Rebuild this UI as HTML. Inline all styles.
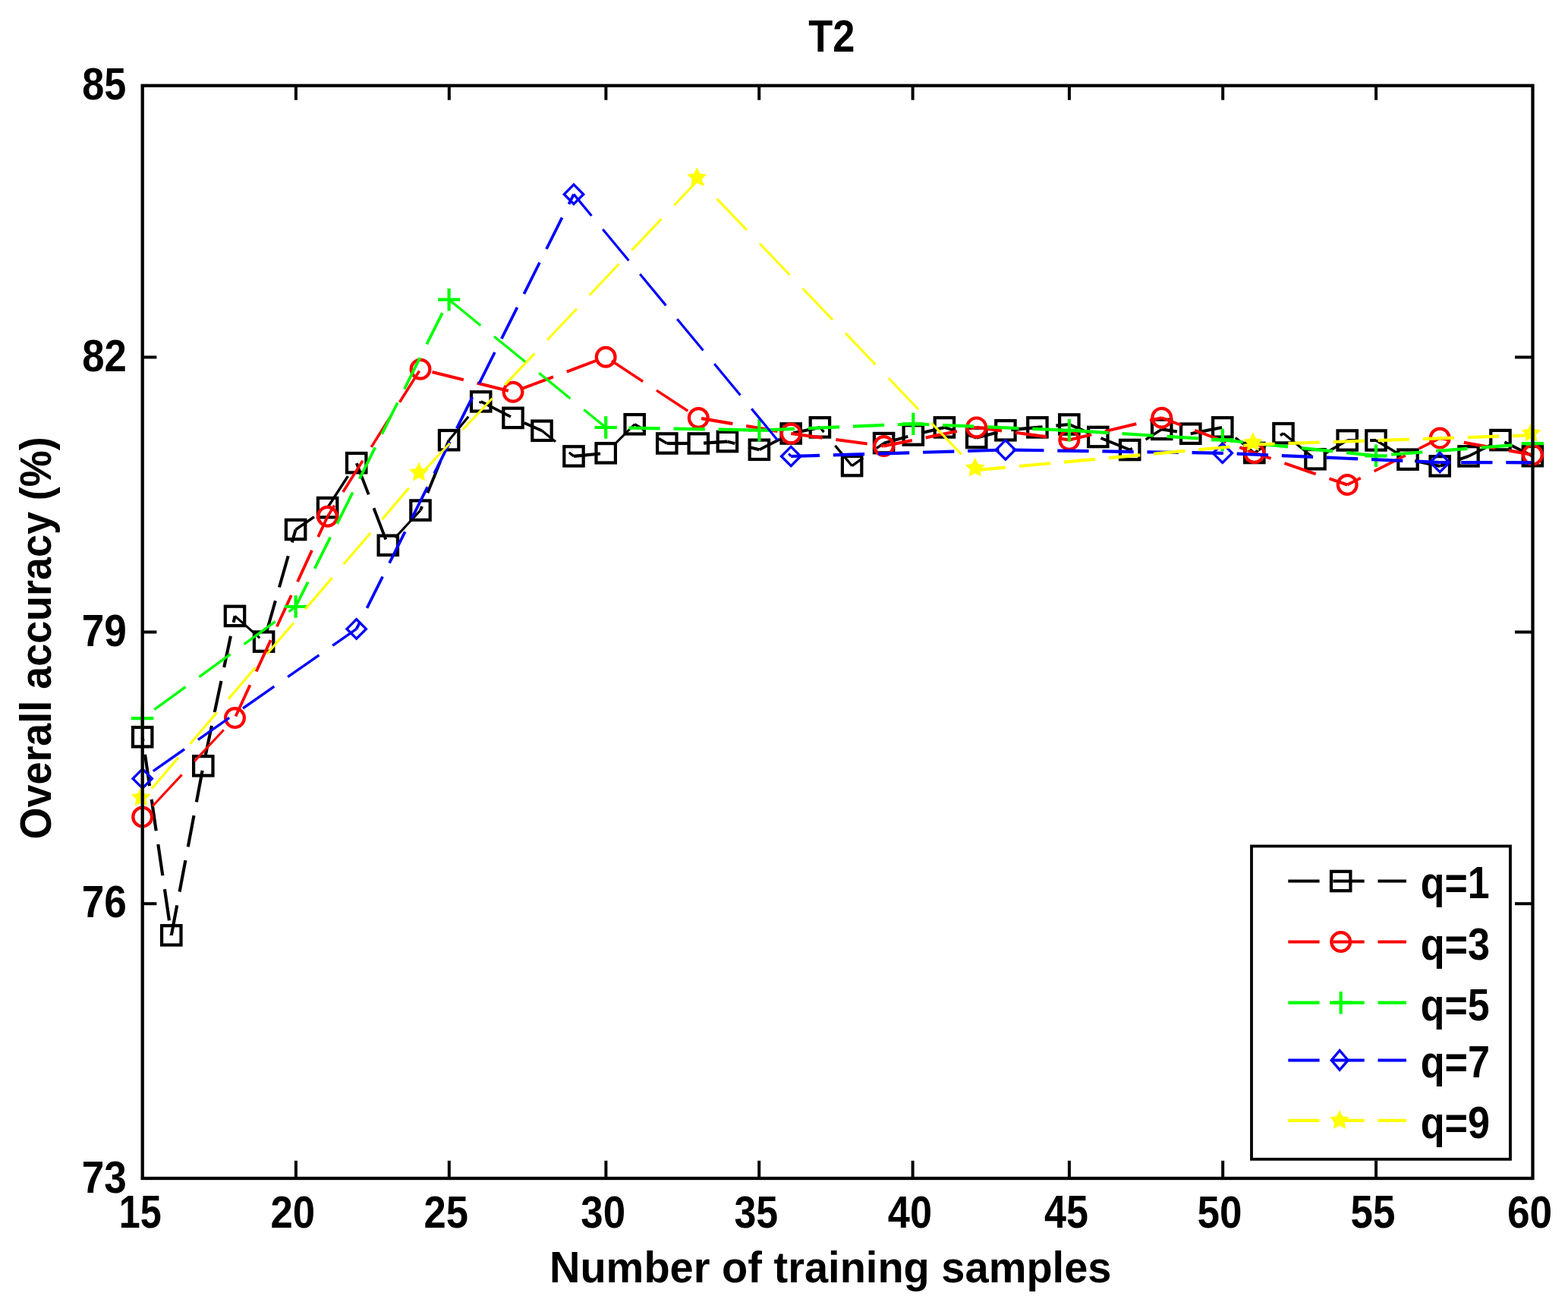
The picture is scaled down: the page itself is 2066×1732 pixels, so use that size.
<!DOCTYPE html><html><head><meta charset="utf-8"><title>T2</title><style>html,body{margin:0;padding:0;background:#fff}svg{display:block}text{font-family:"Liberation Sans",Arial,sans-serif;font-weight:bold;font-size:100px;fill:#000}</style></head><body>
<svg width="2066" height="1732" viewBox="0 0 2066 1732">
<rect width="2066" height="1732" fill="#fff"/>
<g stroke="#000000" fill="none"><line x1="187.7" y1="970.7" x2="225.8" y2="1231.9" stroke-width="4.16" stroke-dasharray="41.74 17.99" stroke-dashoffset="36.38"/><line x1="225.8" y1="1231.9" x2="267.8" y2="1008.8" stroke-width="4.13" stroke-dasharray="42.03 18.11" stroke-dashoffset="1.73"/><line x1="267.8" y1="1008.8" x2="309.5" y2="811.4" stroke-width="4.11" stroke-dasharray="42.21 18.19" stroke-dashoffset="48.55"/><line x1="309.5" y1="811.4" x2="347.6" y2="845.1" stroke-width="3.15" stroke-dasharray="55.14 23.76" stroke-dashoffset="11.35"/><line x1="347.6" y1="845.1" x2="389.6" y2="697.5" stroke-width="4.04" stroke-dasharray="42.94 18.51" stroke-dashoffset="48.45"/><line x1="389.6" y1="697.5" x2="431.6" y2="668.6" stroke-width="3.46" stroke-dasharray="50.13 21.61" stroke-dashoffset="20.51"/><line x1="431.6" y1="668.6" x2="469.7" y2="609.7" stroke-width="3.53" stroke-dasharray="49.19 21.20" stroke-dashoffset="70.15"/><line x1="469.7" y1="609.7" x2="511.3" y2="718.3" stroke-width="3.92" stroke-dasharray="44.23 19.06" stroke-dashoffset="62.86"/><line x1="511.3" y1="718.3" x2="554.0" y2="672.1" stroke-width="3.08" stroke-dasharray="56.24 24.24" stroke-dashoffset="66.86"/><line x1="554.0" y1="672.1" x2="591.6" y2="579.7" stroke-width="3.89" stroke-dasharray="44.59 19.22" stroke-dashoffset="39.08"/><line x1="591.6" y1="579.7" x2="633.7" y2="528.9" stroke-width="3.23" stroke-dasharray="53.64 23.12" stroke-dashoffset="13.51"/><line x1="633.7" y1="528.9" x2="676.0" y2="550.4" stroke-width="3.74" stroke-dasharray="46.33 19.97" stroke-dashoffset="2.36"/><line x1="676.0" y1="550.4" x2="714.0" y2="567.3" stroke-width="3.84" stroke-dasharray="45.20 19.48" stroke-dashoffset="48.59"/><line x1="714.0" y1="567.3" x2="756.0" y2="600.9" stroke-width="3.28" stroke-dasharray="52.89 22.80" stroke-dashoffset="29.84"/><line x1="756.0" y1="600.9" x2="798.2" y2="596.8" stroke-width="4.18" stroke-dasharray="41.49 17.88" stroke-dashoffset="6.23"/><line x1="798.2" y1="596.8" x2="836.2" y2="558.8" stroke-width="2.97" stroke-dasharray="58.41 25.17" stroke-dashoffset="68.45"/><line x1="836.2" y1="558.8" x2="878.8" y2="584.0" stroke-width="3.61" stroke-dasharray="47.99 20.68" stroke-dashoffset="31.72"/><line x1="878.8" y1="584.0" x2="920.3" y2="584.0" stroke-width="4.20" stroke-dasharray="41.30 17.80" stroke-dashoffset="10.80"/><line x1="920.3" y1="584.0" x2="958.4" y2="581.6" stroke-width="4.19" stroke-dasharray="41.38 17.84" stroke-dashoffset="52.40"/><line x1="958.4" y1="581.6" x2="1000.4" y2="592.3" stroke-width="4.07" stroke-dasharray="42.62 18.37" stroke-dashoffset="32.30"/><line x1="1000.4" y1="592.3" x2="1042.2" y2="571.0" stroke-width="3.74" stroke-dasharray="46.35 19.98" stroke-dashoffset="15.94"/><line x1="1042.2" y1="571.0" x2="1080.4" y2="562.9" stroke-width="4.11" stroke-dasharray="42.22 18.20" stroke-dashoffset="57.25"/><line x1="1080.4" y1="562.9" x2="1122.6" y2="613.6" stroke-width="3.23" stroke-dasharray="53.73 23.16" stroke-dashoffset="45.67"/><line x1="1122.6" y1="613.6" x2="1164.6" y2="583.6" stroke-width="3.42" stroke-dasharray="50.75 21.87" stroke-dashoffset="32.81"/><line x1="1164.6" y1="583.6" x2="1203.3" y2="573.0" stroke-width="4.05" stroke-dasharray="42.82 18.46" stroke-dashoffset="9.95"/><line x1="1203.3" y1="573.0" x2="1244.4" y2="562.9" stroke-width="4.08" stroke-dasharray="42.53 18.33" stroke-dashoffset="49.74"/><line x1="1244.4" y1="562.9" x2="1286.7" y2="576.5" stroke-width="4.00" stroke-dasharray="43.38 18.70" stroke-dashoffset="31.83"/><line x1="1286.7" y1="576.5" x2="1324.9" y2="566.8" stroke-width="4.07" stroke-dasharray="42.61 18.36" stroke-dashoffset="13.93"/><line x1="1324.9" y1="566.8" x2="1366.9" y2="562.9" stroke-width="4.18" stroke-dasharray="41.48 17.88" stroke-dashoffset="51.92"/><line x1="1366.9" y1="562.9" x2="1408.8" y2="559.0" stroke-width="4.18" stroke-dasharray="41.48 17.88" stroke-dashoffset="34.75"/><line x1="1408.8" y1="559.0" x2="1446.8" y2="575.5" stroke-width="3.85" stroke-dasharray="45.03 19.41" stroke-dashoffset="18.97"/><line x1="1446.8" y1="575.5" x2="1488.7" y2="592.5" stroke-width="3.89" stroke-dasharray="44.57 19.21" stroke-dashoffset="59.79"/><line x1="1488.7" y1="592.5" x2="1530.7" y2="565.4" stroke-width="3.53" stroke-dasharray="49.15 21.18" stroke-dashoffset="45.46"/><line x1="1530.7" y1="565.4" x2="1568.8" y2="571.2" stroke-width="4.15" stroke-dasharray="41.78 18.01" stroke-dashoffset="21.34"/><line x1="1568.8" y1="571.2" x2="1610.8" y2="562.9" stroke-width="4.12" stroke-dasharray="42.10 18.14" stroke-dashoffset="0.10"/><line x1="1610.8" y1="562.9" x2="1652.8" y2="596.5" stroke-width="3.28" stroke-dasharray="52.89 22.80" stroke-dashoffset="53.91"/><line x1="1652.8" y1="596.5" x2="1691.0" y2="570.7" stroke-width="3.48" stroke-dasharray="49.84 21.48" stroke-dashoffset="30.17"/><line x1="1691.0" y1="570.7" x2="1733.0" y2="604.8" stroke-width="3.26" stroke-dasharray="53.20 22.93" stroke-dashoffset="5.28"/><line x1="1733.0" y1="604.8" x2="1775.2" y2="580.0" stroke-width="3.62" stroke-dasharray="47.90 20.65" stroke-dashoffset="53.47"/><line x1="1775.2" y1="580.0" x2="1813.0" y2="580.0" stroke-width="4.20" stroke-dasharray="41.30 17.80" stroke-dashoffset="29.20"/><line x1="1813.0" y1="580.0" x2="1855.0" y2="605.2" stroke-width="3.60" stroke-dasharray="48.16 20.76" stroke-dashoffset="9.21"/><line x1="1855.0" y1="605.2" x2="1897.2" y2="613.9" stroke-width="4.11" stroke-dasharray="42.17 18.17" stroke-dashoffset="50.95"/><line x1="1897.2" y1="613.9" x2="1935.0" y2="600.9" stroke-width="3.97" stroke-dasharray="43.67 18.82" stroke-dashoffset="34.90"/><line x1="1935.0" y1="600.9" x2="1977.0" y2="579.6" stroke-width="3.75" stroke-dasharray="46.31 19.96" stroke-dashoffset="13.12"/><line x1="1977.0" y1="579.6" x2="2019.4" y2="600.7" stroke-width="3.76" stroke-dasharray="46.13 19.88" stroke-dashoffset="59.98"/></g>
<g><rect x="175.0" y="958.0" width="25.4" height="25.4" fill="none" stroke="#000000" stroke-width="4.2"/><rect x="213.1" y="1219.2" width="25.4" height="25.4" fill="none" stroke="#000000" stroke-width="4.2"/><rect x="255.1" y="996.1" width="25.4" height="25.4" fill="none" stroke="#000000" stroke-width="4.2"/><rect x="296.8" y="798.7" width="25.4" height="25.4" fill="none" stroke="#000000" stroke-width="4.2"/><rect x="334.9" y="832.4" width="25.4" height="25.4" fill="none" stroke="#000000" stroke-width="4.2"/><rect x="376.9" y="684.8" width="25.4" height="25.4" fill="none" stroke="#000000" stroke-width="4.2"/><rect x="418.9" y="655.9" width="25.4" height="25.4" fill="none" stroke="#000000" stroke-width="4.2"/><rect x="457.0" y="597.0" width="25.4" height="25.4" fill="none" stroke="#000000" stroke-width="4.2"/><rect x="498.6" y="705.6" width="25.4" height="25.4" fill="none" stroke="#000000" stroke-width="4.2"/><rect x="541.3" y="659.4" width="25.4" height="25.4" fill="none" stroke="#000000" stroke-width="4.2"/><rect x="578.9" y="567.0" width="25.4" height="25.4" fill="none" stroke="#000000" stroke-width="4.2"/><rect x="621.0" y="516.2" width="25.4" height="25.4" fill="none" stroke="#000000" stroke-width="4.2"/><rect x="663.3" y="537.7" width="25.4" height="25.4" fill="none" stroke="#000000" stroke-width="4.2"/><rect x="701.3" y="554.6" width="25.4" height="25.4" fill="none" stroke="#000000" stroke-width="4.2"/><rect x="743.3" y="588.2" width="25.4" height="25.4" fill="none" stroke="#000000" stroke-width="4.2"/><rect x="785.5" y="584.1" width="25.4" height="25.4" fill="none" stroke="#000000" stroke-width="4.2"/><rect x="823.5" y="546.1" width="25.4" height="25.4" fill="none" stroke="#000000" stroke-width="4.2"/><rect x="866.1" y="571.3" width="25.4" height="25.4" fill="none" stroke="#000000" stroke-width="4.2"/><rect x="907.6" y="571.3" width="25.4" height="25.4" fill="none" stroke="#000000" stroke-width="4.2"/><rect x="945.7" y="568.9" width="25.4" height="25.4" fill="none" stroke="#000000" stroke-width="4.2"/><rect x="987.7" y="579.6" width="25.4" height="25.4" fill="none" stroke="#000000" stroke-width="4.2"/><rect x="1029.5" y="558.3" width="25.4" height="25.4" fill="none" stroke="#000000" stroke-width="4.2"/><rect x="1067.7" y="550.2" width="25.4" height="25.4" fill="none" stroke="#000000" stroke-width="4.2"/><rect x="1109.9" y="600.9" width="25.4" height="25.4" fill="none" stroke="#000000" stroke-width="4.2"/><rect x="1151.9" y="570.9" width="25.4" height="25.4" fill="none" stroke="#000000" stroke-width="4.2"/><rect x="1190.6" y="560.3" width="25.4" height="25.4" fill="none" stroke="#000000" stroke-width="4.2"/><rect x="1231.7" y="550.2" width="25.4" height="25.4" fill="none" stroke="#000000" stroke-width="4.2"/><rect x="1274.0" y="563.8" width="25.4" height="25.4" fill="none" stroke="#000000" stroke-width="4.2"/><rect x="1312.2" y="554.1" width="25.4" height="25.4" fill="none" stroke="#000000" stroke-width="4.2"/><rect x="1354.2" y="550.2" width="25.4" height="25.4" fill="none" stroke="#000000" stroke-width="4.2"/><rect x="1396.1" y="546.3" width="25.4" height="25.4" fill="none" stroke="#000000" stroke-width="4.2"/><rect x="1434.1" y="562.8" width="25.4" height="25.4" fill="none" stroke="#000000" stroke-width="4.2"/><rect x="1476.0" y="579.8" width="25.4" height="25.4" fill="none" stroke="#000000" stroke-width="4.2"/><rect x="1518.0" y="552.7" width="25.4" height="25.4" fill="none" stroke="#000000" stroke-width="4.2"/><rect x="1556.1" y="558.5" width="25.4" height="25.4" fill="none" stroke="#000000" stroke-width="4.2"/><rect x="1598.1" y="550.2" width="25.4" height="25.4" fill="none" stroke="#000000" stroke-width="4.2"/><rect x="1640.1" y="583.8" width="25.4" height="25.4" fill="none" stroke="#000000" stroke-width="4.2"/><rect x="1678.3" y="558.0" width="25.4" height="25.4" fill="none" stroke="#000000" stroke-width="4.2"/><rect x="1720.3" y="592.1" width="25.4" height="25.4" fill="none" stroke="#000000" stroke-width="4.2"/><rect x="1762.5" y="567.3" width="25.4" height="25.4" fill="none" stroke="#000000" stroke-width="4.2"/><rect x="1800.3" y="567.3" width="25.4" height="25.4" fill="none" stroke="#000000" stroke-width="4.2"/><rect x="1842.3" y="592.5" width="25.4" height="25.4" fill="none" stroke="#000000" stroke-width="4.2"/><rect x="1884.5" y="601.2" width="25.4" height="25.4" fill="none" stroke="#000000" stroke-width="4.2"/><rect x="1922.3" y="588.2" width="25.4" height="25.4" fill="none" stroke="#000000" stroke-width="4.2"/><rect x="1964.3" y="566.9" width="25.4" height="25.4" fill="none" stroke="#000000" stroke-width="4.2"/><rect x="2006.7" y="588.0" width="25.4" height="25.4" fill="none" stroke="#000000" stroke-width="4.2"/></g>
<g stroke="#ff0000" fill="none"><line x1="187.7" y1="1076.0" x2="309.5" y2="945.6" stroke-width="3.07" stroke-dasharray="56.51 24.36" stroke-dashoffset="61.30"/><line x1="309.5" y1="945.6" x2="431.6" y2="680.2" stroke-width="3.82" stroke-dasharray="45.46 19.59" stroke-dashoffset="62.74"/><line x1="431.6" y1="680.2" x2="554.0" y2="486.2" stroke-width="3.55" stroke-dasharray="48.83 21.05" stroke-dashoffset="31.81"/><line x1="554.0" y1="486.2" x2="676.0" y2="516.3" stroke-width="4.08" stroke-dasharray="42.54 18.33" stroke-dashoffset="44.91"/><line x1="676.0" y1="516.3" x2="798.2" y2="470.2" stroke-width="3.93" stroke-dasharray="44.14 19.02" stroke-dashoffset="50.66"/><line x1="798.2" y1="470.2" x2="920.3" y2="550.5" stroke-width="3.51" stroke-dasharray="49.43 21.30" stroke-dashoffset="61.52"/><line x1="920.3" y1="550.5" x2="1042.2" y2="571.0" stroke-width="4.14" stroke-dasharray="41.88 18.05" stroke-dashoffset="56.08"/><line x1="1042.2" y1="571.0" x2="1164.6" y2="587.5" stroke-width="4.16" stroke-dasharray="41.67 17.96" stroke-dashoffset="59.53"/><line x1="1164.6" y1="587.5" x2="1286.7" y2="562.9" stroke-width="4.12" stroke-dasharray="42.13 18.16" stroke-dashoffset="4.18"/><line x1="1286.7" y1="562.9" x2="1408.8" y2="579.4" stroke-width="4.16" stroke-dasharray="41.68 17.96" stroke-dashoffset="8.07"/><line x1="1408.8" y1="579.4" x2="1530.7" y2="550.3" stroke-width="4.09" stroke-dasharray="42.46 18.30" stroke-dashoffset="12.23"/><line x1="1530.7" y1="550.3" x2="1652.8" y2="596.5" stroke-width="3.93" stroke-dasharray="44.16 19.03" stroke-dashoffset="16.68"/><line x1="1652.8" y1="596.5" x2="1775.2" y2="638.5" stroke-width="3.97" stroke-dasharray="43.66 18.82" stroke-dashoffset="20.62"/><line x1="1775.2" y1="638.5" x2="1897.2" y2="577.1" stroke-width="3.75" stroke-dasharray="46.24 19.93" stroke-dashoffset="26.53"/><line x1="1897.2" y1="577.1" x2="2019.4" y2="599.0" stroke-width="4.13" stroke-dasharray="41.96 18.08" stroke-dashoffset="27.94"/></g>
<g><circle cx="187.7" cy="1076.0" r="12.4" fill="none" stroke="#ff0000" stroke-width="4.2"/><circle cx="309.5" cy="945.6" r="12.4" fill="none" stroke="#ff0000" stroke-width="4.2"/><circle cx="431.6" cy="680.2" r="12.4" fill="none" stroke="#ff0000" stroke-width="4.2"/><circle cx="554.0" cy="486.2" r="12.4" fill="none" stroke="#ff0000" stroke-width="4.2"/><circle cx="676.0" cy="516.3" r="12.4" fill="none" stroke="#ff0000" stroke-width="4.2"/><circle cx="798.2" cy="470.2" r="12.4" fill="none" stroke="#ff0000" stroke-width="4.2"/><circle cx="920.3" cy="550.5" r="12.4" fill="none" stroke="#ff0000" stroke-width="4.2"/><circle cx="1042.2" cy="571.0" r="12.4" fill="none" stroke="#ff0000" stroke-width="4.2"/><circle cx="1164.6" cy="587.5" r="12.4" fill="none" stroke="#ff0000" stroke-width="4.2"/><circle cx="1286.7" cy="562.9" r="12.4" fill="none" stroke="#ff0000" stroke-width="4.2"/><circle cx="1408.8" cy="579.4" r="12.4" fill="none" stroke="#ff0000" stroke-width="4.2"/><circle cx="1530.7" cy="550.3" r="12.4" fill="none" stroke="#ff0000" stroke-width="4.2"/><circle cx="1652.8" cy="596.5" r="12.4" fill="none" stroke="#ff0000" stroke-width="4.2"/><circle cx="1775.2" cy="638.5" r="12.4" fill="none" stroke="#ff0000" stroke-width="4.2"/><circle cx="1897.2" cy="577.1" r="12.4" fill="none" stroke="#ff0000" stroke-width="4.2"/><circle cx="2019.4" cy="599.0" r="12.4" fill="none" stroke="#ff0000" stroke-width="4.2"/></g>
<g stroke="#00ff00" fill="none"><line x1="187.7" y1="946.1" x2="389.6" y2="799.0" stroke-width="3.39" stroke-dasharray="51.10 22.02" stroke-dashoffset="53.82"/><line x1="389.6" y1="799.0" x2="591.6" y2="394.7" stroke-width="3.76" stroke-dasharray="46.17 19.90" stroke-dashoffset="10.06"/><line x1="591.6" y1="394.7" x2="798.2" y2="563.0" stroke-width="3.26" stroke-dasharray="53.27 22.96" stroke-dashoffset="75.71"/><line x1="798.2" y1="563.0" x2="1000.4" y2="566.7" stroke-width="4.20" stroke-dasharray="41.31 17.80" stroke-dashoffset="28.90"/><line x1="1000.4" y1="566.7" x2="1203.3" y2="558.4" stroke-width="4.20" stroke-dasharray="41.33 17.81" stroke-dashoffset="53.84"/><line x1="1203.3" y1="558.4" x2="1408.8" y2="566.8" stroke-width="4.20" stroke-dasharray="41.33 17.81" stroke-dashoffset="20.32"/><line x1="1408.8" y1="566.8" x2="1610.8" y2="579.4" stroke-width="4.19" stroke-dasharray="41.38 17.83" stroke-dashoffset="48.59"/><line x1="1610.8" y1="579.4" x2="1813.0" y2="600.3" stroke-width="4.18" stroke-dasharray="41.52 17.89" stroke-dashoffset="14.18"/><line x1="1813.0" y1="600.3" x2="2019.4" y2="584.2" stroke-width="4.19" stroke-dasharray="41.43 17.85" stroke-dashoffset="39.12"/></g>
<g><path d="M173.0 946.1H202.4M187.7 931.4V960.8" stroke="#00ff00" stroke-width="4.2" fill="none"/><path d="M374.9 799.0H404.3M389.6 784.3V813.7" stroke="#00ff00" stroke-width="4.2" fill="none"/><path d="M576.9 394.7H606.3M591.6 380.0V409.4" stroke="#00ff00" stroke-width="4.2" fill="none"/><path d="M783.5 563.0H812.9M798.2 548.3V577.7" stroke="#00ff00" stroke-width="4.2" fill="none"/><path d="M985.7 566.7H1015.1M1000.4 552.0V581.4" stroke="#00ff00" stroke-width="4.2" fill="none"/><path d="M1188.6 558.4H1218.0M1203.3 543.7V573.1" stroke="#00ff00" stroke-width="4.2" fill="none"/><path d="M1394.1 566.8H1423.5M1408.8 552.1V581.5" stroke="#00ff00" stroke-width="4.2" fill="none"/><path d="M1596.1 579.4H1625.5M1610.8 564.7V594.1" stroke="#00ff00" stroke-width="4.2" fill="none"/><path d="M1798.3 600.3H1827.7M1813.0 585.6V615.0" stroke="#00ff00" stroke-width="4.2" fill="none"/><path d="M2004.7 584.2H2034.1M2019.4 569.5V598.9" stroke="#00ff00" stroke-width="4.2" fill="none"/></g>
<g stroke="#0000ff" fill="none"><line x1="187.7" y1="1025.5" x2="469.7" y2="828.4" stroke-width="3.44" stroke-dasharray="50.39 21.72" stroke-dashoffset="54.90"/><line x1="469.7" y1="828.4" x2="756.0" y2="255.9" stroke-width="3.76" stroke-dasharray="46.18 19.90" stroke-dashoffset="35.22"/><line x1="756.0" y1="255.9" x2="1042.2" y2="601.0" stroke-width="3.23" stroke-dasharray="53.65 23.12" stroke-dashoffset="16.89"/><line x1="1042.2" y1="601.0" x2="1324.9" y2="592.5" stroke-width="4.20" stroke-dasharray="41.32 17.81" stroke-dashoffset="3.50"/><line x1="1324.9" y1="592.5" x2="1610.8" y2="596.8" stroke-width="4.20" stroke-dasharray="41.30 17.80" stroke-dashoffset="49.81"/><line x1="1610.8" y1="596.8" x2="1897.2" y2="609.0" stroke-width="4.20" stroke-dasharray="41.34 17.82" stroke-dashoffset="40.24"/><line x1="1897.2" y1="609.0" x2="2019.4" y2="609.3" stroke-width="4.20" stroke-dasharray="41.30 17.80" stroke-dashoffset="31.10"/></g>
<g><path d="M187.7 1012.8L200.4 1025.5L187.7 1038.2L175.0 1025.5Z" stroke="#0000ff" stroke-width="3.3" fill="none"/><path d="M469.7 815.7L482.4 828.4L469.7 841.1L457.0 828.4Z" stroke="#0000ff" stroke-width="3.3" fill="none"/><path d="M756.0 243.2L768.7 255.9L756.0 268.6L743.3 255.9Z" stroke="#0000ff" stroke-width="3.3" fill="none"/><path d="M1042.2 588.3L1054.9 601.0L1042.2 613.7L1029.5 601.0Z" stroke="#0000ff" stroke-width="3.3" fill="none"/><path d="M1324.9 579.8L1337.6 592.5L1324.9 605.2L1312.2 592.5Z" stroke="#0000ff" stroke-width="3.3" fill="none"/><path d="M1610.8 584.1L1623.5 596.8L1610.8 609.5L1598.1 596.8Z" stroke="#0000ff" stroke-width="3.3" fill="none"/><path d="M1897.2 596.3L1909.9 609.0L1897.2 621.7L1884.5 609.0Z" stroke="#0000ff" stroke-width="3.3" fill="none"/></g>
<g stroke="#ffff00" fill="none"><line x1="187.7" y1="1053.1" x2="554.0" y2="625.0" stroke-width="3.19" stroke-dasharray="54.35 23.43" stroke-dashoffset="58.96"/><line x1="554.0" y1="625.0" x2="920.3" y2="236.5" stroke-width="3.06" stroke-dasharray="56.76 24.46" stroke-dashoffset="0.14"/><line x1="920.3" y1="236.5" x2="1286.7" y2="619.2" stroke-width="3.03" stroke-dasharray="57.18 24.64" stroke-dashoffset="47.07"/><line x1="1286.7" y1="619.2" x2="1652.8" y2="585.5" stroke-width="4.18" stroke-dasharray="41.47 17.88" stroke-dashoffset="3.01"/><line x1="1652.8" y1="585.5" x2="2019.4" y2="573.2" stroke-width="4.20" stroke-dasharray="41.32 17.81" stroke-dashoffset="14.51"/></g>
<g><polygon points="185.7,1036.9 189.7,1045.0 198.6,1046.3 192.2,1052.6 193.7,1061.5 185.7,1057.3 177.7,1061.5 179.2,1052.6 172.8,1046.3 181.7,1045.0" fill="#ffff00" stroke="none"/><polygon points="552.0,608.8 556.0,616.9 564.9,618.2 558.5,624.5 560.0,633.4 552.0,629.2 544.0,633.4 545.5,624.5 539.1,618.2 548.0,616.9" fill="#ffff00" stroke="none"/><polygon points="918.3,220.3 922.3,228.4 931.2,229.7 924.8,236.0 926.3,244.9 918.3,240.7 910.3,244.9 911.8,236.0 905.4,229.7 914.3,228.4" fill="#ffff00" stroke="none"/><polygon points="1284.7,603.0 1288.7,611.1 1297.6,612.4 1291.2,618.7 1292.7,627.6 1284.7,623.4 1276.7,627.6 1278.2,618.7 1271.8,612.4 1280.7,611.1" fill="#ffff00" stroke="none"/><polygon points="1650.8,569.3 1654.8,577.4 1663.7,578.7 1657.3,585.0 1658.8,593.9 1650.8,589.7 1642.8,593.9 1644.3,585.0 1637.9,578.7 1646.8,577.4" fill="#ffff00" stroke="none"/><polygon points="2017.4,557.0 2021.4,565.1 2030.3,566.4 2023.9,572.7 2025.4,581.6 2017.4,577.4 2009.4,581.6 2010.9,572.7 2004.5,566.4 2013.4,565.1" fill="#ffff00" stroke="none"/></g>
<rect x="187.7" y="112.8" width="1831.8" height="1439.2" fill="none" stroke="#000" stroke-width="4.3"/>
<path d="M389.9 1552.0V1528.7M389.9 112.8V131.7M591.8 1552.0V1528.7M591.8 112.8V131.7M798.4 1552.0V1528.7M798.4 112.8V131.7M1000.2 1552.0V1528.7M1000.2 112.8V131.7M1202.6 1552.0V1528.7M1202.6 112.8V131.7M1408.9 1552.0V1528.7M1408.9 112.8V131.7M1611.2 1552.0V1528.7M1611.2 112.8V131.7M1813.1 1552.0V1528.7M1813.1 112.8V131.7M187.7 470.5H206.4M2019.5 470.5H1996.0M187.7 832.4H206.4M2019.5 832.4H1996.0M187.7 1190.2H206.4M2019.5 1190.2H1996.0" stroke="#000" stroke-width="4.0" fill="none"/>
<rect x="1649.0" y="1114.5" width="341.0" height="412.3" fill="#fff" stroke="#000" stroke-width="3.8"/>
<path d="M1697.3 1160.5H1853.0" stroke="#000000" stroke-width="4.2" stroke-dasharray="41.3 17.8" fill="none"/>
<rect x="1754.0" y="1147.8" width="25.4" height="25.4" fill="none" stroke="#000000" stroke-width="4.2"/>
<path d="M1697.3 1240.5H1853.0" stroke="#ff0000" stroke-width="4.2" stroke-dasharray="41.3 17.8" fill="none"/>
<circle cx="1766.7" cy="1240.5" r="12.4" fill="none" stroke="#ff0000" stroke-width="4.2"/>
<path d="M1697.3 1320.7H1853.0" stroke="#00ff00" stroke-width="4.2" stroke-dasharray="41.3 17.8" fill="none"/>
<path d="M1752.0 1320.7H1781.4M1766.7 1306.0V1335.4" stroke="#00ff00" stroke-width="4.2" fill="none"/>
<path d="M1697.3 1396.5H1853.0" stroke="#0000ff" stroke-width="4.2" stroke-dasharray="41.3 17.8" fill="none"/>
<path d="M1765.2 1383.6L1776.2 1396.4L1765.2 1409.2L1754.2 1396.4Z" stroke="#0000ff" stroke-width="3.3" fill="none"/>
<path d="M1697.3 1475.9H1853.0" stroke="#ffff00" stroke-width="4.2" stroke-dasharray="41.3 17.8" fill="none"/>
<polygon points="1765.0,1462.1 1769.0,1470.2 1777.9,1471.5 1771.5,1477.8 1773.0,1486.7 1765.0,1482.5 1757.0,1486.7 1758.5,1477.8 1752.1,1471.5 1761.0,1470.2" fill="#ffff00" stroke="none"/>
<g><text transform="translate(1065.28 68.40) scale(0.5241 0.5971)">T2</text><text transform="translate(108.23 131.11) scale(0.5219 0.5873)">85</text><text transform="translate(108.22 488.71) scale(0.5269 0.5944)">82</text><text transform="translate(107.67 850.61) scale(0.5320 0.5930)">79</text><text transform="translate(107.67 1208.21) scale(0.5320 0.5873)">76</text><text transform="translate(107.67 1570.50) scale(0.5320 0.5972)">73</text><text transform="translate(156.68 1617.00) scale(0.5039 0.6043)">15</text><text transform="translate(356.42 1617.00) scale(0.5279 0.5958)">20</text><text transform="translate(558.42 1617.00) scale(0.5257 0.5958)">25</text><text transform="translate(765.34 1617.00) scale(0.5286 0.5958)">30</text><text transform="translate(967.46 1617.00) scale(0.5189 0.5958)">35</text><text transform="translate(1169.85 1617.00) scale(0.5229 0.5958)">40</text><text transform="translate(1376.06 1617.00) scale(0.5208 0.6043)">45</text><text transform="translate(1577.61 1617.00) scale(0.5298 0.5958)">50</text><text transform="translate(1779.61 1617.00) scale(0.5295 0.6043)">55</text><text transform="translate(1985.97 1617.00) scale(0.5330 0.5958)">60</text><text transform="translate(723.98 1689.19) scale(0.5600 0.5766)">Number of training samples</text><text transform="translate(67.29 1105.46) rotate(-90) scale(0.5390 0.5670)">Overall accuracy (%)</text><text transform="translate(1871.72 1183.38) scale(0.5190 0.6011)">q=1</text><text transform="translate(1871.71 1263.52) scale(0.5222 0.5945)">q=3</text><text transform="translate(1871.72 1343.58) scale(0.5190 0.6011)">q=5</text><text transform="translate(1871.71 1419.38) scale(0.5222 0.6011)">q=7</text><text transform="translate(1871.71 1498.92) scale(0.5222 0.5945)">q=9</text></g>
</svg></body></html>
